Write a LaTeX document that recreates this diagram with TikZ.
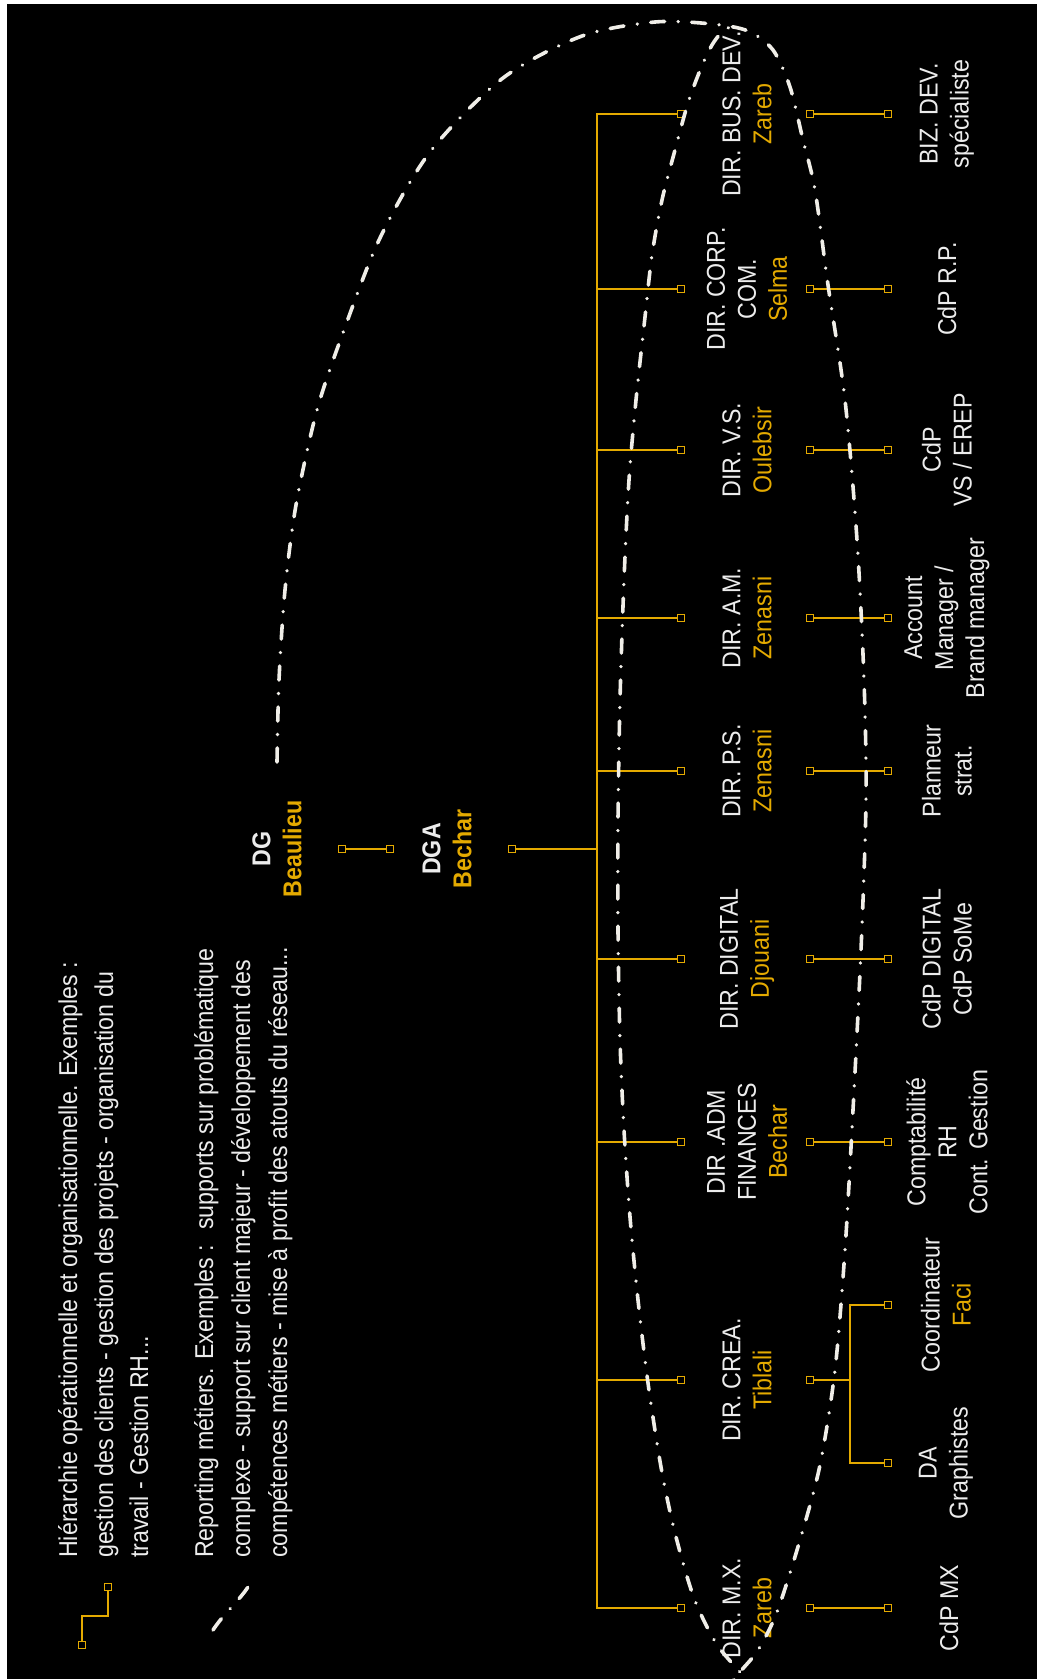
\documentclass[tikz,border=0pt]{standalone}
\usepackage{fontspec}
\setmainfont{Liberation Sans}[FakeStretch=0.9]
\definecolor{gold}{RGB}{228,170,0}
\definecolor{chalk}{RGB}{240,238,232}
\definecolor{ink}{RGB}{236,236,236}
\newcommand{\who}[1]{\textcolor{gold}{#1}}

\begin{document}
\begin{tikzpicture}[x=1pt,y=-1pt,
  lbl/.style={rotate=90, align=center, inner sep=0pt, text=ink,
              font=\fontsize{25.8}{31}\selectfont},
  head/.style={lbl, font=\fontsize{25.8}{31}\selectfont\bfseries},
  lgd/.style={rotate=90, anchor=base west, inner sep=0pt, text=ink,
              font=\fontsize{25.8}{31}\selectfont},
  sq/.style={draw=gold, fill=black, line width=1.8pt, minimum width=7pt,
             minimum height=7pt, inner sep=0pt},
  link/.style={draw=gold, line width=2.2pt},
  reporting/.style={draw=chalk, line width=3.6pt, line cap=round,
                    dash pattern=on 14pt off 13.5pt on 0.01pt off 13.5pt},
]
\useasboundingbox (0,0) rectangle (1037,1679);
\fill[white] (0,0) rectangle (1037,1679);
\fill[black] (7,3.5) rectangle (1037,1679);

% ---------- legend ----------
\node[sq] (lg1) at (82,1645) {};
\node[sq] (lg2) at (108,1587) {};
\coordinate (lgk) at (108,1616);
\draw[link] (lg1) |- (lgk) -- (lg2);
\draw[reporting] (213,1630) .. controls (225,1612) and (238,1602) .. (248,1587);

\node[lgd] (l1) at (77,1558) {Hiérarchie opérationnelle et organisationnelle. Exemples :};
\node[lgd] (l2) at (113,1558) {gestion des clients - gestion des projets - organisation du};
\node[lgd] (l3) at (148,1558) {travail - Gestion RH...};
\node[lgd] (l4) at (213,1558) {Reporting métiers. Exemples :~ supports sur problématique};
\node[lgd] (l5) at (250,1558) {complexe - support sur client majeur - développement des};
\node[lgd] (l6) at (287,1558) {compétences métiers - mise à profit des atouts du réseau...};

% ---------- top management ----------
\node[head] (dg) at (277,849) {DG\\\who{Beaulieu}};
\node[sq] (dgs1) at (342,849) {};
\node[sq] (dgs2) at (390,849) {};
\draw[link] (dgs1) -- (dgs2);
\node[head] (dga) at (447,849) {DGA\\\who{Bechar}};
\node[sq] (dgas) at (512,849) {};
\coordinate (tdga) at (597,849);
\draw[link] (dgas) -- (tdga);

% ---------- trunk and directors ----------
\coordinate (t1) at (597,114);
\coordinate (t2) at (597,289);
\coordinate (t3) at (597,450);
\coordinate (t4) at (597,618);
\coordinate (t5) at (597,771);
\coordinate (t6) at (597,959);
\coordinate (t7) at (597,1142);
\coordinate (t8) at (597,1380);
\coordinate (t9) at (597,1608);

\node[sq] (d1) at (681,114) {};
\node[sq] (d2) at (681,289) {};
\node[sq] (d3) at (681,450) {};
\node[sq] (d4) at (681,618) {};
\node[sq] (d5) at (681,771) {};
\node[sq] (d6) at (681,959) {};
\node[sq] (d7) at (681,1142) {};
\node[sq] (d8) at (681,1380) {};
\node[sq] (d9) at (681,1608) {};

\draw[link] (d1) -- (t1) -- (t9) -- (d9);
\draw[link] (t2) -- (d2);
\draw[link] (t3) -- (d3);
\draw[link] (t4) -- (d4);
\draw[link] (t5) -- (d5);
\draw[link] (t6) -- (d6);
\draw[link] (t7) -- (d7);
\draw[link] (t8) -- (d8);

\node[lbl] (n1) at (747,114) {DIR. BUS. DEV.\\\who{Zareb}};
\node[lbl] (n2) at (747,289) {DIR. CORP.\\COM.\\\who{Selma}};
\node[lbl] (n3) at (747,450) {DIR. V.S.\\\who{Oulebsir}};
\node[lbl] (n4) at (747,618) {DIR. A.M.\\\who{Zenasni}};
\node[lbl] (n5) at (747,771) {DIR. P.S.\\\who{Zenasni}};
\node[lbl] (n6) at (747,959) {DIR. DIGITAL\\\who{Djouani}};
\node[lbl] (n7) at (747,1142) {DIR .ADM\\FINANCES\\\who{Bechar}};
\node[lbl] (n8) at (747,1380) {DIR. CREA.\\\who{Tiblali}};
\node[lbl] (n9) at (747,1608) {DIR. M.X.\\\who{Zareb}};

% ---------- teams ----------
\node[sq] (a1) at (810,114) {};  \node[sq] (b1) at (888,114) {};
\node[sq] (a2) at (810,289) {};  \node[sq] (b2) at (888,289) {};
\node[sq] (a3) at (810,450) {};  \node[sq] (b3) at (888,450) {};
\node[sq] (a4) at (810,618) {};  \node[sq] (b4) at (888,618) {};
\node[sq] (a5) at (810,771) {};  \node[sq] (b5) at (888,771) {};
\node[sq] (a6) at (810,959) {};  \node[sq] (b6) at (888,959) {};
\node[sq] (a7) at (810,1142) {}; \node[sq] (b7) at (888,1142) {};
\node[sq] (a9) at (810,1608) {}; \node[sq] (b9) at (888,1608) {};
\foreach \i in {1,2,3,4,5,6,7,9} \draw[link] (a\i) -- (b\i);

\node[sq] (a8) at (810,1380) {};
\node[sq] (b8) at (888,1305) {};
\node[sq] (c8) at (888,1463) {};
\coordinate (k0) at (850,1380);
\coordinate (k1) at (850,1305);
\coordinate (k2) at (850,1463);
\draw[link] (a8) -- (k0);
\draw[link] (b8) -- (k1) -- (k2) -- (c8);

\node[lbl] (m1) at (947,114) {BIZ. DEV.\\spécialiste};
\node[lbl] (m2) at (947,289) {CdP R.P.};
\node[lbl] (m3) at (947,450) {CdP\\VS / EREP};
\node[lbl] (m4) at (947,618) {Account\\Manager /\\Brand manager};
\node[lbl] (m5) at (947,771) {Planneur\\strat.};
\node[lbl] (m6) at (947,959) {CdP DIGITAL\\CdP SoMe};
\node[lbl] (m7) at (947,1142) {Comptabilité\\RH\\Cont. Gestion};
\node[lbl] (m8) at (946,1305) {Coordinateur\\\who{Faci}};
\node[lbl] (m8b) at (946,1463) {DA\\Graphistes};
\node[lbl] (m9) at (949,1608) {CdP MX};

% ---------- functional reporting loop ----------
\begin{scope}
\clip (7,3.5) rectangle (1037,1679);
\draw[reporting] plot[smooth] coordinates {
  (277,762) (279,680) (285,590) (296,505) (317,410) (344,330) (380,238)
  (430,152) (503,78) (582,36) (655,22) (712,24) (748,31) (773,50)
  (790,87) (803,140) (815,190) (828,285) (845,400) (857,540) (864,680)
  (866,800) (861,950) (853,1110) (845,1250) (835,1370) (820,1465)
  (800,1540) (777,1612) (758,1650) (740,1672) (722,1695)};
\draw[reporting] plot[smooth] coordinates {
  (758,1692) (740,1672) (716,1643) (694,1598) (675,1533) (661,1467)
  (648,1383) (638,1300) (630,1217) (624,1130) (620,1040) (618,930)
  (618,820) (620,700) (624,580) (629,480) (636,400) (645,317) (652,255)
  (662,200) (675,150) (688,103) (701,68) (712,45) (722,32) (732,26)};
\end{scope}
\end{tikzpicture}
\end{document}
